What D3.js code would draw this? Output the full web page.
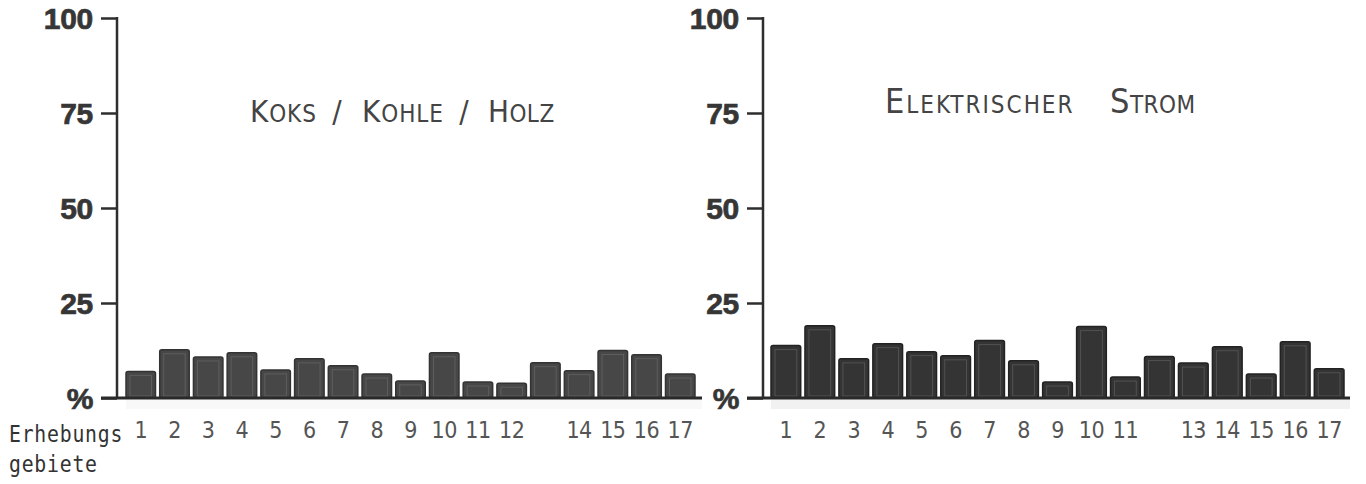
<!DOCTYPE html>
<html>
<head>
<meta charset="utf-8">
<script src="https://cdn.jsdelivr.net/npm/d3@7"></script>
<style>
  html, body { margin: 0; padding: 0; background: #fff; }
  svg { display: block; }
  .title { white-space: pre; }
</style>
</head>
<body>
<svg id="chart" width="1366" height="484"></svg>
<script>
// Erhebungsgebiete 1..17
const areas = d3.range(1, 18);

// Anteil der Haushalte in % je Erhebungsgebiet
const koksKohleHolz     = [7.0, 12.7, 10.8, 11.9, 7.4, 10.3, 8.5, 6.3, 4.5, 11.9, 4.2, 3.9, 9.3, 7.2, 12.5, 11.4, 6.3];
const elektrischerStrom = [13.8, 19.0, 10.3, 14.3, 12.2, 11.1, 15.1, 9.8, 4.2, 18.8, 5.5, 10.9, 9.2, 13.5, 6.3, 14.8, 7.7];

// Beschriftung der Gebiete (nicht jedes Gebiet ist beschriftet)
const labelsLeft  = ["1","2","3","4","5","6","7","8","9","10","11","12","","14","15","16","17"];
const labelsRight = ["1","2","3","4","5","6","7","8","9","10","11","","13","14","15","16","17"];

// Werte der y-Achse und ihre Beschriftung
const yTickValues = [0, 25, 50, 75, 100];
const yTickLabels = ["%", "25", "50", "75", "100"];

const svg = d3.select("#chart");

const y = d3.scaleLinear().domain([0, 100]).range([398, 18]);

function panel(cfg) {
  const g = svg.append("g");

  const x = d3.scaleBand()
    .domain(areas)
    .range([cfg.barsLeft, cfg.barsRight])
    .paddingInner(0.125)
    .paddingOuter(0);

  // leichter Schatten unter der Grundlinie
  g.append("rect")
    .attr("x", cfg.barsLeft)
    .attr("y", y(0) + 1)
    .attr("width", cfg.baseRight - cfg.barsLeft)
    .attr("height", 10)
    .attr("fill", "#d6d6d6")
    .attr("opacity", cfg.shade);

  // y-Achse mit Beschriftung
  const yAxis = d3.axisLeft(y)
    .tickValues(yTickValues)
    .tickFormat((d, i) => yTickLabels[i])
    .tickSize(cfg.tickLen)
    .tickPadding(8);

  const ya = g.append("g")
    .attr("transform", `translate(${cfg.axisX},0)`)
    .call(yAxis);
  ya.select(".domain").remove();
  ya.selectAll(".tick line")
    .attr("stroke", "#2e2e2e")
    .attr("stroke-width", 2.5);
  ya.selectAll(".tick text")
    .attr("fill", "#363636")
    .attr("stroke", "#363636")
    .attr("stroke-width", 0.7)
    .attr("font-family", "'Liberation Sans', Arial, sans-serif")
    .attr("font-weight", "bold")
    .attr("font-size", 30)
    .attr("letter-spacing", -0.3)
    .attr("dy", "0.36em");

  // senkrechte Achsenlinie
  g.append("line")
    .attr("x1", cfg.axisX).attr("x2", cfg.axisX)
    .attr("y1", y(100) - 1).attr("y2", y(0))
    .attr("stroke", "#2e2e2e")
    .attr("stroke-width", 2.5);

  // Balken
  const bars = g.append("g");
  bars.selectAll("rect.bar")
    .data(cfg.values)
    .join("rect")
    .attr("class", "bar")
    .attr("x", (d, i) => x(areas[i]))
    .attr("y", d => y(d))
    .attr("width", x.bandwidth())
    .attr("height", d => y(0) - y(d))
    .attr("rx", 2)
    .attr("fill", cfg.barFill)
    .attr("stroke", cfg.barStroke)
    .attr("stroke-width", 1.5);

  // innere Konturlinie der Balken
  bars.selectAll("rect.inner")
    .data(cfg.values)
    .join("rect")
    .attr("class", "inner")
    .attr("x", (d, i) => x(areas[i]) + 4)
    .attr("y", d => y(d) + 4)
    .attr("width", x.bandwidth() - 8)
    .attr("height", d => Math.max(0, y(0) - y(d) - 6))
    .attr("fill", "none")
    .attr("stroke", "#8a8a8a")
    .attr("stroke-opacity", 0.35)
    .attr("stroke-width", 1);

  // Grundlinie
  g.append("line")
    .attr("x1", cfg.axisX - cfg.tickLen).attr("x2", cfg.baseRight)
    .attr("y1", y(0)).attr("y2", y(0))
    .attr("stroke", "#2a2a2a")
    .attr("stroke-width", 3);

  // Gebietsnummern
  const xAxis = d3.axisBottom(x)
    .tickFormat((d, i) => cfg.labels[i])
    .tickSize(0)
    .tickPadding(33);
  const xa = g.append("g")
    .attr("transform", `translate(0,${y(0)})`)
    .call(xAxis);
  xa.select(".domain").remove();
  xa.selectAll(".tick text")
    .attr("fill", "#555")
    .attr("font-family", "'DejaVu Sans Condensed', 'DejaVu Sans', sans-serif")
    .attr("font-size", 23)
    .attr("letter-spacing", -0.5)
    .attr("dy", "0.32em");

  // Titel in Kapitälchen
  const t = g.append("text")
    .attr("class", "title")
    .attr("x", cfg.titleX)
    .attr("y", cfg.titleY)
    .attr("fill", "#444")
    .attr("font-family", "'Liberation Sans Narrow', 'DejaVu Sans Condensed', sans-serif")
    .attr("font-stretch", "condensed");
  cfg.title.forEach(([big, small, spacing]) => {
    t.append("tspan").attr("font-size", cfg.bigSize).attr("letter-spacing", spacing).text(big);
    t.append("tspan").attr("font-size", cfg.smallSize).attr("letter-spacing", spacing).text(small);
  });
}

panel({
  axisX: 117, tickLen: 16,
  barsLeft: 126, barsRight: 695, baseRight: 702,
  values: koksKohleHolz, labels: labelsLeft,
  barFill: "#474747", barStroke: "#333", shade: 0.18,
  title: [["K", "OKS  ", 0.9], ["/  K", "OHLE  ", 0.9], ["/  H", "OLZ", 0.5]],
  titleX: 250, titleY: 122, bigSize: 31, smallSize: 24
});

panel({
  axisX: 763, tickLen: 16,
  barsLeft: 771, barsRight: 1344, baseRight: 1350,
  values: elektrischerStrom, labels: labelsRight,
  barFill: "#343434", barStroke: "#222", shade: 0.35,
  title: [["E", "LEKTRISCHER    ", 2], ["S", "TROM", 0.5]],
  titleX: 885, titleY: 113, bigSize: 34, smallSize: 24
});

// Legende zur Gebietsnummer (schmale Schreibmaschinenschrift)
const legend = svg.append("text")
  .attr("transform", "translate(9,0) scale(0.86,1)")
  .attr("fill", "#333")
  .attr("font-family", "'DejaVu Sans Mono', monospace")
  .attr("font-size", 23)
  .attr("letter-spacing", 0.9);
legend.append("tspan").attr("x", 0).attr("y", 442).text("Erhebungs");
legend.append("tspan").attr("x", 0).attr("y", 472).text("gebiete");
</script>
</body>
</html>
